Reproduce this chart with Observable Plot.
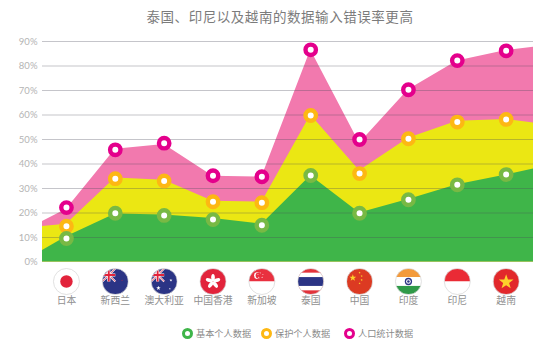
<!DOCTYPE html>
<html><head><meta charset="utf-8">
<script src="https://cdn.jsdelivr.net/npm/d3@7"></script>
<script src="https://cdn.jsdelivr.net/npm/@observablehq/plot@0.6"></script>
<style>
html,body{margin:0;padding:0;background:#fff;width:548px;height:354px;overflow:hidden}
body{font-family:"Noto Sans CJK SC","Lato",sans-serif}
#title{position:absolute;left:0;top:6px;width:560px;text-align:center;font-size:13.5px;line-height:20px;letter-spacing:.55px;color:#7b7b7b}
#chart{position:absolute;left:0;top:30px}
#legend{position:absolute;left:0;top:326px;height:14px;width:548px;font-size:9.2px;line-height:14px;color:#8a8a8a}
#legend span{position:absolute;top:0;white-space:nowrap}
#legend i{position:absolute;top:2px;width:5px;height:5px;border-style:solid;border-width:3px;border-radius:50%;background:#fff}
</style></head><body>
<div id="title"></div><div id="chart"></div><div id="legend"></div>
<script>
const titleText = "泰国、印尼以及越南的数据输入错误率更高";
const countries = ["日本","新西兰","澳大利亚","中国香港","新加坡","泰国","中国","印度","印尼","越南"];
const flagCodes = ["jp","nz","au","hk","sg","th","cn","in","id","vn"];
const seriesNames = ["基本个人数据","保护个人数据","人口统计数据"];
const yTicks = [0,10,20,30,40,50,60,70,80,90];

// marker readings
const basicDots   = [9.6,19.9,19,17.3,15,35.3,19.9,25.4,31.5,35.7];
const protectDots = [14.6,34,33.1,24.6,24.2,59.8,36.1,50.3,57.1,58.2];
const demoDots    = [22.2,45.8,48.5,35.2,34.8,86.6,50,70.3,82.2,86.2];

// area outlines: left edge, each country, right edge
const areaX       = [-0.49,0,1,2,3,4,5,6,7,8,9,9.56];
const basicArea   = [4.7,10.3,19.6,19.2,17.8,15.4,35.2,20,25.5,31.5,35.5,38];
const protectArea = [14.5,15.4,34.3,33.4,24.8,24.4,60,37.2,50.5,57.5,58.2,56.7];
const demoArea    = [16.5,21.5,46,48,35,34.7,86.5,48.5,70.3,82,86.3,87.7];

const colors = {area:["#3fb549","#ebe713","#f279ae"], ring:["#78b944","#fdb813","#e4008c"]};

const star = (cx,cy,r,fill,rot=0)=>{let p=[];for(let i=0;i<10;i++){const a=rot-Math.PI/2+i*Math.PI/5,q=i%2?r*.4:r;p.push((cx+q*Math.cos(a)).toFixed(1)+","+(cy+q*Math.sin(a)).toFixed(1));}return `<polygon points="${p.join(" ")}" fill="${fill}"/>`;};
const ukCorner = `<rect width="50" height="50" fill="#2b3485"/><path d="M0 0L50 50M50 0L0 50" stroke="#fff" stroke-width="7"/><path d="M0 0L50 50M50 0L0 50" stroke="#e2233b" stroke-width="3"/><path d="M25 0V50M0 25H50" stroke="#fff" stroke-width="12"/><path d="M25 0V50M0 25H50" stroke="#e2233b" stroke-width="7"/>`;
const flagBodies = {
  jp:`<rect width="100" height="100" fill="#fff"/><circle cx="50" cy="50" r="24" fill="#e2233b"/>`,
  nz:`<rect width="100" height="100" fill="#2b3485"/>${ukCorner}${star(76,45,3,"#e2233b")}`,
  au:`<rect width="100" height="100" fill="#2b3485"/>${ukCorner}${star(28,75,9,"#fff")}${star(76,45,6,"#fff")}${star(72,78,4,"#fff")}`,
  hk:`<rect width="100" height="100" fill="#e2233b"/>`+[0,1,2,3,4].map(i=>`<ellipse cx="50" cy="35" rx="7" ry="14" fill="#fff" transform="rotate(${i*72} 50 50)"/>`).join(""),
  sg:`<rect width="100" height="50" fill="#e9303f"/><rect y="50" width="100" height="50" fill="#fff"/><circle cx="33" cy="27" r="13" fill="#fff"/><circle cx="38" cy="27" r="12" fill="#e9303f"/>`+[[42,16],[52,22],[49,33],[36,33],[33,22]].map(d=>star(d[0]+2,d[1]+1,3,"#fff")).join(""),
  th:`<rect width="100" height="100" fill="#e2333b"/><rect y="16" width="100" height="68" fill="#fff"/><rect y="33" width="100" height="34" fill="#2b3485"/>`,
  cn:`<rect width="100" height="100" fill="#dc3a22"/>${star(24,36,14,"#fdd22b")}${star(50,16,4.5,"#fdd22b")}${star(58,29,4.5,"#fdd22b")}${star(58,44,4.5,"#fdd22b")}${star(50,57,4.5,"#fdd22b")}`,
  in:`<rect width="100" height="33" fill="#f39a3c"/><rect y="33" width="100" height="34" fill="#fff"/><rect y="67" width="100" height="33" fill="#2f9a49"/><circle cx="50" cy="50" r="14" fill="#2b3485"/><circle cx="50" cy="50" r="9" fill="#fff"/><circle cx="50" cy="50" r="5" fill="#2b3485"/>`,
  id:`<rect width="100" height="50" fill="#ea2b35"/><rect y="50" width="100" height="50" fill="#fff"/>`,
  vn:`<rect width="100" height="100" fill="#e2282b"/>${star(50,52,30,"#fdd22b")}`
};
const flagUri = c => "data:image/svg+xml," + encodeURIComponent(`<svg xmlns="http://www.w3.org/2000/svg" viewBox="0 0 100 100">${flagBodies[c]}</svg>`);

const idx = countries.map((_,i)=>i);
const areaMark = (vals,color)=>Plot.areaY(vals,{x:(_,i)=>areaX[i],y:d=>d,fill:color,curve:"linear"});
const dotMark = (vals,color)=>Plot.dot(vals,{x:(_,i)=>i,y:d=>d,r:5.2,fill:"#fff",stroke:color,strokeWidth:4.4});

const fontFam = '"Lato","Noto Sans CJK SC",sans-serif';
const plot = Plot.plot({
  width:548,height:280,marginTop:11,marginBottom:48.5,marginLeft:42,marginRight:15,
  style:{background:"transparent",fontFamily:fontFam},
  x:{domain:[-0.49,9.56],axis:null},
  y:{domain:[0,90],axis:null},
  marks:[
    areaMark(demoArea,colors.area[2]),
    areaMark(protectArea,colors.area[1]),
    areaMark(basicArea,colors.area[0]),
    Plot.ruleY(yTicks.slice(1),{stroke:"#4a4a5a",strokeOpacity:.32,strokeWidth:1}),
    Plot.axisY({ticks:yTicks,tickFormat:d=>d+"%",tickSize:0,tickPadding:5,label:null,fontSize:9.5,color:"#b4b4b4",fill:"#b4b4b4"}),
    dotMark(demoDots,colors.ring[2]),
    dotMark(protectDots,colors.ring[1]),
    dotMark(basicDots,colors.ring[0]),
    Plot.image(idx,{x:d=>d,y:()=>0,dy:19.5,r:13,src:d=>flagUri(flagCodes[d])}),
    Plot.dot(idx,{x:d=>d,y:()=>0,dy:19.5,r:13,stroke:"#d4d4d4",strokeWidth:.7,fill:"none"}),
    Plot.text(idx,{x:d=>d,y:()=>0,dy:39,text:d=>countries[d],fontSize:9.8,fill:"#909090",fontFamily:'"Noto Sans CJK SC",sans-serif'})
  ]
});
document.getElementById("chart").append(plot);
document.getElementById("title").textContent = titleText;
const legendX = [182,261,344];
const legend = document.getElementById("legend");
seriesNames.forEach((name,i)=>{
  const r=document.createElement("i");r.style.left=legendX[i]+"px";r.style.borderColor=i==0?"#3fb549":colors.ring[i];legend.append(r);
  const s=document.createElement("span");s.style.left=(legendX[i]+14)+"px";s.textContent=name;legend.append(s);
});
</script>
</body></html>
